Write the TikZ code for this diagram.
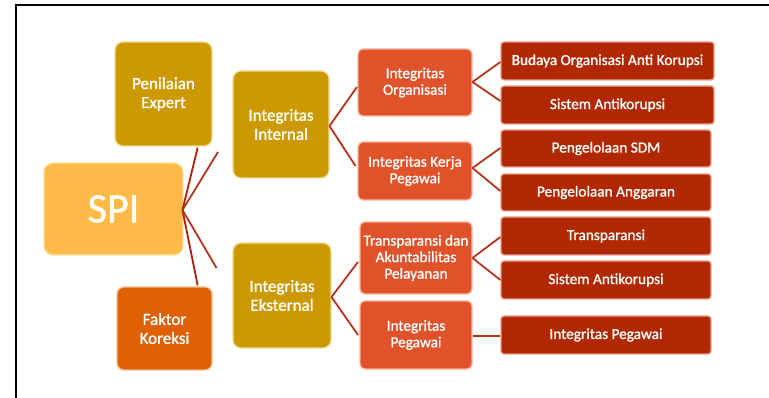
\documentclass[tikz,border=0pt]{standalone}
\usepackage{fontspec}
\setmainfont{Carlito}[FakeBold=1.2]
\newfontfamily\heavy{Carlito}[FakeBold=1.2]
\usetikzlibrary{calc}
\definecolor{goldc}{RGB}{204,153,0}
\definecolor{goldb}{RGB}{240,220,150}
\definecolor{spic}{RGB}{255,186,72}
\definecolor{spib}{RGB}{255,225,160}
\definecolor{faktc}{RGB}{222,96,0}
\definecolor{faktb}{RGB}{245,190,150}
\definecolor{lvtwo}{RGB}{224,83,42}
\definecolor{lvtwob}{RGB}{245,180,160}
\definecolor{leafc}{RGB}{177,39,0}
\definecolor{leafb}{RGB}{235,160,145}
\definecolor{linec}{RGB}{180,52,28}
\definecolor{lined}{RGB}{170,32,10}
\tikzset{
  box/.style={rectangle, text=white, align=center, inner sep=1pt, line width=1.3pt},
  lvone/.style={box, fill=goldc, draw=goldb, rounded corners=8pt, font=\heavy\fontsize{17}{19}\selectfont},
  spibox/.style={box, fill=spic, draw=spib, rounded corners=9pt, font=\heavy\fontsize{42}{46}\selectfont},
  faktbox/.style={box, fill=faktc, draw=faktb, rounded corners=7pt, font=\heavy\fontsize{17}{19}\selectfont},
  lvtwobox/.style={box, fill=lvtwo, draw=lvtwob, rounded corners=5pt, font=\heavy\fontsize{15.3}{16.5}\selectfont},
  leafbox/.style={box, fill=leafc, draw=leafb, rounded corners=3pt, font=\heavy\fontsize{15.3}{17}\selectfont},
  conn/.style={draw=linec, line width=1.8pt},
  connd/.style={draw=lined, line width=1.8pt},
  frame/.style={draw=black, line width=2.2pt}
}
\begin{document}
\begin{tikzpicture}[x=1pt,y=-1pt]
\useasboundingbox (0,0) rectangle (769,398);
% frame
\coordinate (ftl) at (16,5);
\coordinate (ftr) at (769,5);
\coordinate (fbl) at (16,398);
\draw[frame] (ftr) -- (ftl) -- (fbl);
% level 1
\node[lvone, minimum width=97pt, minimum height=104pt] (pe) at (163.5,94) {Penilaian\\Expert};
\node[spibox, minimum width=139pt, minimum height=92pt] (spi) at (113.5,209) {SPI};
\node[faktbox, minimum width=95pt, minimum height=83pt] (fk) at (164.5,328.5) {Faktor\\Koreksi};
\node[lvone, minimum width=96pt, minimum height=107pt] (ii) at (281,124.5) {Integritas\\Internal};
\node[lvone, minimum width=98pt, minimum height=105pt] (ie) at (282,295.5) {Integritas\\Eksternal};
% level 2
\node[lvtwobox, minimum width=114pt, minimum height=67pt] (io) at (415,82.5) {Integritas\\Organisasi};
\node[lvtwobox, minimum width=114pt, minimum height=58pt] (ikp) at (415,171) {Integritas Kerja\\Pegawai};
\node[lvtwobox, minimum width=112pt, minimum height=72pt] (tap) at (416,258) {Transparansi dan\\Akuntabilitas\\Pelayanan};
\node[lvtwobox, minimum width=112pt, minimum height=68pt] (ip) at (416,335) {Integritas\\Pegawai};
% leaves
\node[leafbox, minimum width=213pt, minimum height=38pt] (b1) at (607.5,61) {Budaya Organisasi Anti Korupsi};
\node[leafbox, minimum width=213pt, minimum height=38pt] (b2) at (607.5,105) {Sistem Antikorupsi};
\node[leafbox, minimum width=210pt, minimum height=37pt] (b3) at (606,148.5) {Pengelolaan SDM};
\node[leafbox, minimum width=210pt, minimum height=37pt] (b4) at (606,192.5) {Pengelolaan Anggaran};
\node[leafbox, minimum width=210pt, minimum height=38pt] (b5) at (606,236) {Transparansi};
\node[leafbox, minimum width=210pt, minimum height=38pt] (b6) at (606,280) {Sistem Antikorupsi};
\node[leafbox, minimum width=210pt, minimum height=38pt] (b7) at (606,335) {Integritas Pegawai};
% connector ends
\coordinate (spio) at (182.5,210);
\coordinate (toii) at (218,152);
\coordinate (toie) at (216.5,268);
\coordinate (iio) at (329.5,126);
\coordinate (ieo) at (331.5,297);
\coordinate (toio) at (357,87);
\coordinate (toikp) at (355.5,166);
\coordinate (totap) at (358,262);
\coordinate (toip) at (358,335);
\coordinate (ioo) at (472.5,82);
\coordinate (ikpo) at (472.5,168);
\coordinate (tapo) at (472.5,258);
\coordinate (ipo) at (472.5,336);
% level-1 connectors
\draw[connd] (spio) -- ($(pe.south east)+(-15pt,-1pt)$);
\draw[connd] (spio) -- ($(fk.north east)+(-15pt,1pt)$);
\draw[conn] (spio) -- (toii);
\draw[conn] (spio) -- (toie);
% level-2 connectors
\draw[conn] (iio) -- (toio);
\draw[conn] (iio) -- (toikp);
\draw[conn] (ieo) -- (totap);
\draw[conn] (ieo) -- (toip);
% leaf connectors
\draw[conn] (ioo) -- (b1.west |- 0,62);
\draw[conn] (ioo) -- (b2.west |- 0,101);
\draw[conn] (ikpo) -- (b3.west |- 0,148);
\draw[conn] (ikpo) -- (b4.west |- 0,191);
\draw[conn] (tapo) -- (b5.west |- 0,237);
\draw[conn] (tapo) -- (b6.west |- 0,280);
\draw[conn] (ipo) -- (b7.west |- 0,336);
\end{tikzpicture}
\end{document}
